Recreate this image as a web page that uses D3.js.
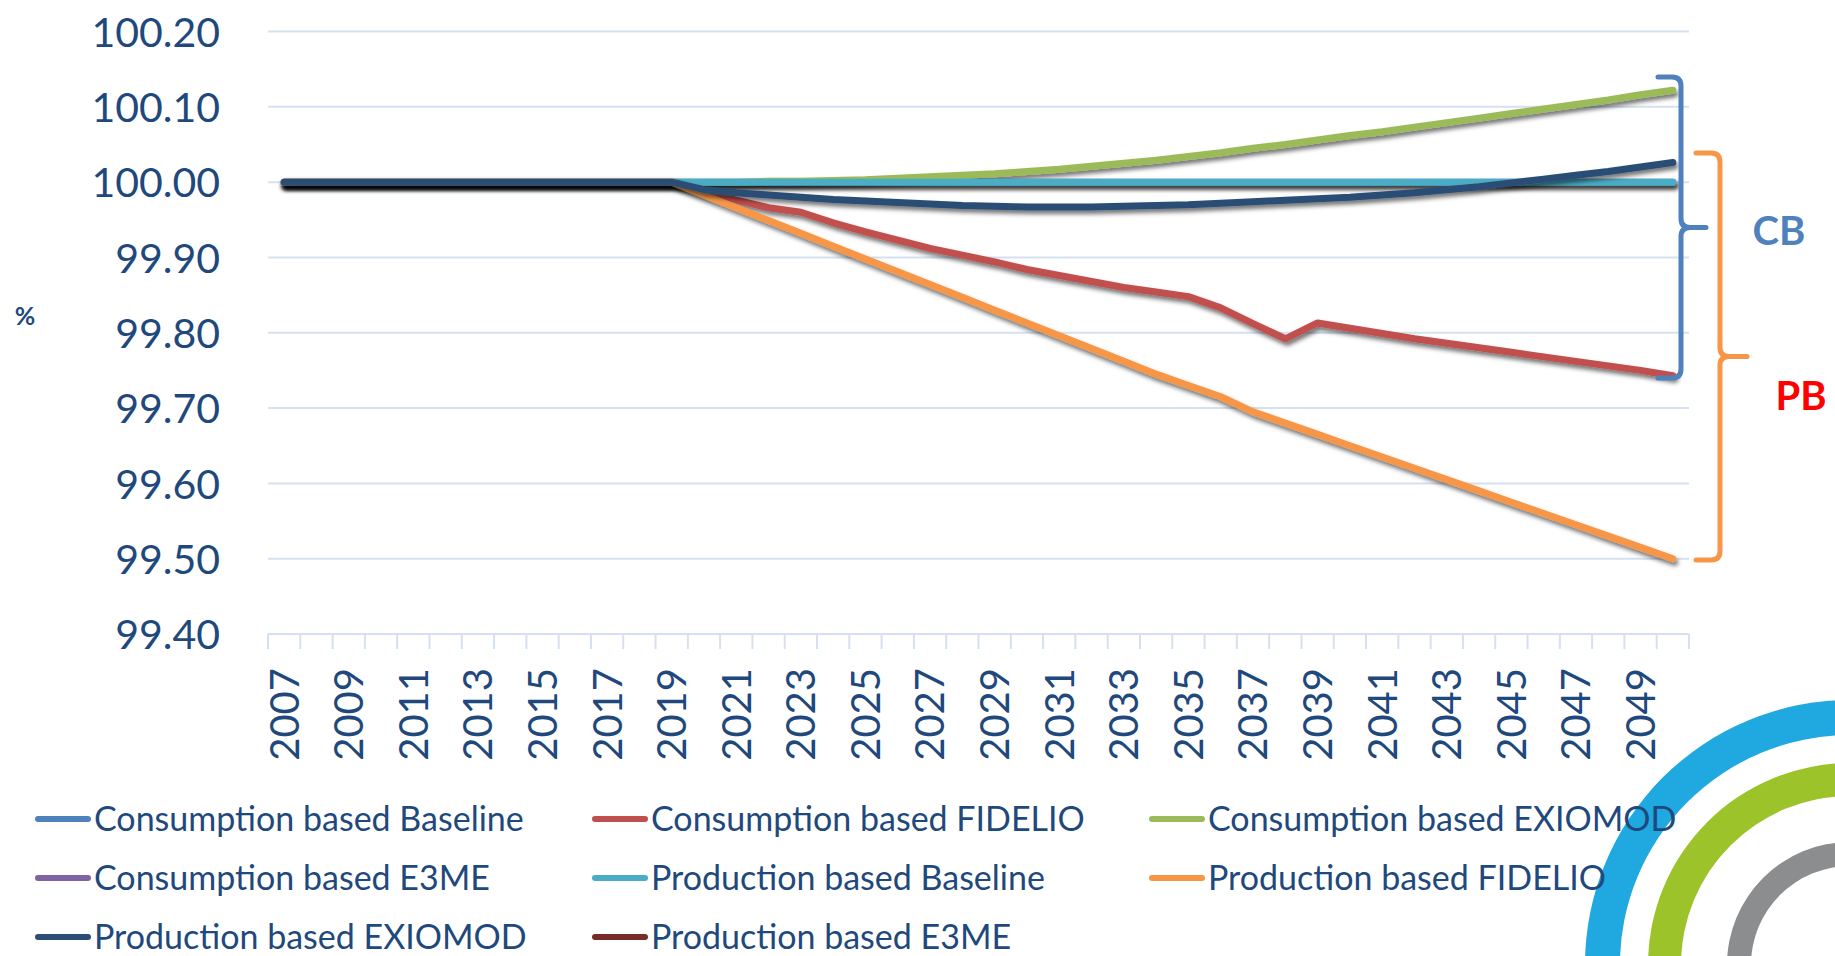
<!DOCTYPE html>
<html>
<head>
<meta charset="utf-8">
<script src="https://cdn.jsdelivr.net/npm/d3@7"></script>
<style>
  html, body { margin: 0; padding: 0; background: #ffffff; }
  svg { display: block; font-family: Lato, "Open Sans", sans-serif; }
</style>
</head>
<body>
<svg id="chart" width="1835" height="956"></svg>
<script>
// Years on the category axis
const years = [2007, 2008, 2009, 2010, 2011, 2012, 2013, 2014, 2015, 2016, 2017,
  2018, 2019, 2020, 2021, 2022, 2023, 2024, 2025, 2026, 2027, 2028, 2029, 2030,
  2031, 2032, 2033, 2034, 2035, 2036, 2037, 2038, 2039, 2040, 2041, 2042, 2043,
  2044, 2045, 2046, 2047, 2048, 2049, 2050];

// Only every second year is labelled
const yearLabels = [2007, 2009, 2011, 2013, 2015, 2017, 2019, 2021, 2023, 2025,
  2027, 2029, 2031, 2033, 2035, 2037, 2039, 2041, 2043, 2045, 2047, 2049];

const yTicks = [99.40, 99.50, 99.60, 99.70, 99.80, 99.90, 100.00, 100.10, 100.20];

// Index values (%), 2007-2050
const cbBaseline = [100, 100, 100, 100, 100, 100, 100, 100, 100, 100, 100, 100, 100,
  100, 100, 100, 100, 100, 100, 100, 100, 100, 100, 100, 100, 100, 100, 100, 100,
  100, 100, 100, 100, 100, 100, 100, 100, 100, 100, 100, 100, 100, 100, 100];

const cbFidelio = [100, 100, 100, 100, 100, 100, 100, 100, 100, 100, 100, 100, 100,
  99.987, 99.976, 99.966, 99.960, 99.946, 99.934, 99.923, 99.912, 99.903, 99.894,
  99.884, 99.876, 99.868, 99.860, 99.854, 99.848, 99.833, 99.812, 99.792, 99.813,
  99.806, 99.799, 99.792, 99.786, 99.780, 99.774, 99.768, 99.762, 99.756, 99.750,
  99.743];

const cbExiomod = [100, 100, 100, 100, 100, 100, 100, 100, 100, 100, 100, 100, 100,
  100.000, 100.000, 100.001, 100.001, 100.002, 100.003, 100.005, 100.007, 100.009,
  100.011, 100.014, 100.017, 100.021, 100.025, 100.029, 100.034, 100.039, 100.045,
  100.050, 100.056, 100.062, 100.067, 100.073, 100.079, 100.085, 100.091, 100.097,
  100.103, 100.109, 100.116, 100.122];

const cbE3me = [];

const pbBaseline = [100, 100, 100, 100, 100, 100, 100, 100, 100, 100, 100, 100, 100,
  100, 100, 100, 100, 100, 100, 100, 100, 100, 100, 100, 100, 100, 100, 100, 100,
  100, 100, 100, 100, 100, 100, 100, 100, 100, 100, 100, 100, 100, 100, 100];

const pbFidelio = [100, 100, 100, 100, 100, 100, 100, 100, 100, 100, 100, 100, 100,
  99.983, 99.966, 99.949, 99.932, 99.915, 99.898, 99.881, 99.864, 99.847, 99.830,
  99.813, 99.796, 99.779, 99.762, 99.745, 99.730, 99.715, 99.695, 99.680, 99.665,
  99.650, 99.635, 99.620, 99.605, 99.590, 99.575, 99.560, 99.545, 99.530, 99.515,
  99.500];

const pbExiomod = [100, 100, 100, 100, 100, 100, 100, 100, 100, 100, 100, 100, 100,
  99.990, 99.986, 99.983, 99.980, 99.977, 99.975, 99.973, 99.971, 99.969, 99.968,
  99.967, 99.967, 99.967, 99.968, 99.969, 99.970, 99.972, 99.974, 99.976, 99.978,
  99.980, 99.983, 99.986, 99.990, 99.994, 99.999, 100.004, 100.009, 100.014,
  100.020, 100.026];

const pbE3me = [];

const seriesNames = [
  "Consumption based Baseline", "Consumption based FIDELIO",
  "Consumption based EXIOMOD", "Consumption based E3ME",
  "Production based Baseline", "Production based FIDELIO",
  "Production based EXIOMOD", "Production based E3ME"
];
const seriesValues = [cbBaseline, cbFidelio, cbExiomod, cbE3me,
  pbBaseline, pbFidelio, pbExiomod, pbE3me];
const seriesColors = ["#4f81bd", "#c0504d", "#9bbb59", "#8064a2",
  "#4bacc6", "#f79646", "#2c4d75", "#772c2a"];

const textColor = "#1f497d";
const gridColor = "#d5e1f1";

const svg = d3.select("#chart");
const W = 1835, H = 956;
const plot = { left: 268, right: 1689, top: 31.5, bottom: 634 };

svg.append("rect").attr("width", W).attr("height", H).attr("fill", "#ffffff");

// Shadow under the data lines (user-space region so flat lines keep it)
const defs = svg.append("defs");
const f = defs.append("filter").attr("id", "lineShadow")
  .attr("filterUnits", "userSpaceOnUse")
  .attr("x", 0).attr("y", 0).attr("width", W).attr("height", H);
f.append("feDropShadow").attr("dx", 2).attr("dy", 3.5).attr("stdDeviation", 2.2)
  .attr("flood-color", "#000").attr("flood-opacity", 0.55);

// Decorative concentric rings in the lower right corner
const ringCenter = [1850, 965];
const rings = [
  { inner: 230, outer: 265, color: "#20a8e0" },
  { inner: 169, outer: 202, color: "#9dc32b" },
  { inner: 99, outer: 123, color: "#8b8d8f" }
];
const ringArc = d3.arc().startAngle(0).endAngle(2 * Math.PI);
svg.append("g").attr("transform", `translate(${ringCenter[0]},${ringCenter[1]})`)
  .selectAll("path").data(rings).join("path")
  .attr("d", d => ringArc({ innerRadius: d.inner, outerRadius: d.outer }))
  .attr("fill", d => d.color);

// Scales
const x = d3.scaleBand().domain(years).range([plot.left, plot.right]).paddingInner(0).paddingOuter(0);
const y = d3.scaleLinear().domain([99.4, 100.2]).range([plot.bottom, plot.top]);
const xc = yr => x(yr) + x.bandwidth() / 2;

// Horizontal gridlines
svg.append("g").selectAll("line").data(yTicks.filter(t => t > 99.4)).join("line")
  .attr("x1", plot.left).attr("x2", plot.right)
  .attr("y1", d => y(d)).attr("y2", d => y(d))
  .attr("stroke", gridColor).attr("stroke-width", 2);

// Y axis labels
const yAxis = d3.axisLeft(y).tickValues(yTicks).tickFormat(d3.format(".2f")).tickSize(0).tickPadding(0);
const gy = svg.append("g").attr("transform", `translate(220,0)`).call(yAxis);
gy.select(".domain").remove();
gy.selectAll("text").attr("fill", textColor).attr("font-size", 41)
  .attr("font-family", "Lato, sans-serif").attr("dy", "0.36em");

// X axis: line, boundary ticks, rotated labels
const gx = svg.append("g");
gx.append("line").attr("x1", plot.left).attr("x2", plot.right)
  .attr("y1", plot.bottom).attr("y2", plot.bottom)
  .attr("stroke", gridColor).attr("stroke-width", 2);
const boundaries = years.map(yr => x(yr)).concat([plot.right]);
gx.selectAll("line.tick").data(boundaries).join("line").attr("class", "tick")
  .attr("x1", d => d).attr("x2", d => d)
  .attr("y1", plot.bottom).attr("y2", plot.bottom + 15)
  .attr("stroke", gridColor).attr("stroke-width", 2);
gx.selectAll("text").data(yearLabels).join("text")
  .attr("transform", d => `translate(${xc(d)},668) rotate(-90)`)
  .attr("text-anchor", "end").attr("dy", "0.36em")
  .attr("font-size", 40).attr("fill", textColor).text(d => d);

// Axis unit
svg.append("text").attr("x", 25).attr("y", 325).attr("text-anchor", "middle")
  .attr("font-size", 25).attr("font-weight", 700).attr("fill", textColor).text("%");

// Data lines
const line = d3.line().defined(d => d.v != null)
  .x(d => xc(d.yr)).y(d => y(d.v));
const linesG = svg.append("g");
seriesValues.forEach((vals, i) => {
  if (!vals.length) return;
  const pts = vals.map((v, k) => ({ yr: years[k], v }));
  linesG.append("path").datum(pts)
    .attr("d", line).attr("fill", "none")
    .attr("stroke", seriesColors[i]).attr("stroke-width", 7)
    .attr("stroke-linecap", "round").attr("stroke-linejoin", "round")
    .attr("filter", "url(#lineShadow)");
});

// Right-hand curly braces
function brace(x0, xv, xt, yTop, yBot, r) {
  const ym = (yTop + yBot) / 2;
  return `M${x0},${yTop} L${xv - r},${yTop} Q${xv},${yTop} ${xv},${yTop + r}
    L${xv},${ym - r} Q${xv},${ym} ${xv + r},${ym} L${xt},${ym}
    M${xv + r},${ym} Q${xv},${ym} ${xv},${ym + r}
    L${xv},${yBot - r} Q${xv},${yBot} ${xv - r},${yBot} L${x0},${yBot}`;
}
svg.append("path").attr("d", brace(1658, 1681, 1706, 77, 378, 9))
  .attr("fill", "none").attr("stroke", "#4f81bd").attr("stroke-width", 5)
  .attr("stroke-linecap", "round");
svg.append("path").attr("d", brace(1696, 1720, 1747, 153, 560, 9))
  .attr("fill", "none").attr("stroke", "#f79646").attr("stroke-width", 5)
  .attr("stroke-linecap", "round");

svg.append("text").attr("x", 1779).attr("y", 245).attr("text-anchor", "middle")
  .attr("font-size", 40).attr("font-weight", 700).attr("fill", "#4f81bd").text("CB");
svg.append("text").attr("x", 1801).attr("y", 410).attr("text-anchor", "middle")
  .attr("font-size", 40).attr("font-weight", 700).attr("fill", "#ff0000").text("PB");

// Legend, three columns
const legendCols = [35, 592, 1149];
const legendRows = [819, 878, 937];
const lg = svg.append("g").selectAll("g").data(seriesNames).join("g")
  .attr("transform", (d, i) => `translate(${legendCols[i % 3]},${legendRows[Math.floor(i / 3)]})`);
lg.append("line").attr("x1", 3).attr("x2", 53).attr("y1", 0).attr("y2", 0)
  .attr("stroke", (d, i) => seriesColors[i]).attr("stroke-width", 6)
  .attr("stroke-linecap", "round");
lg.append("text").attr("x", 59).attr("dy", "0.36em")
  .attr("font-size", 34).attr("fill", textColor).text(d => d);
</script>
</body>
</html>
